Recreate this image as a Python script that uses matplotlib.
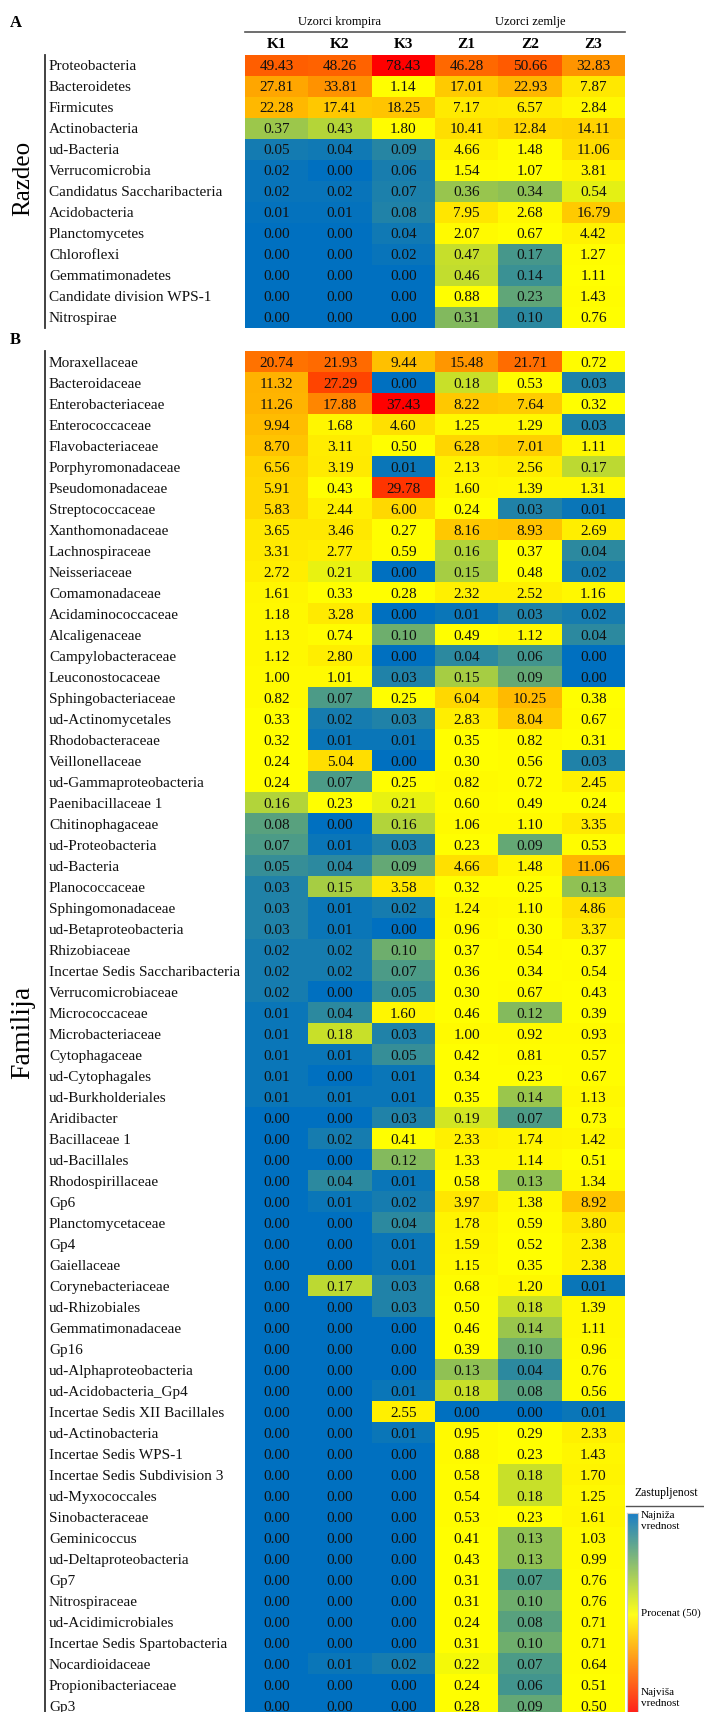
import numpy as np
import matplotlib
matplotlib.use("Agg")
import matplotlib.pyplot as plt
from matplotlib.colors import LinearSegmentedColormap, TwoSlopeNorm

plt.rcParams['font.family'] = ['Liberation Serif', 'DejaVu Serif']

# samples (columns)
samples = ['K1', 'K2', 'K3', 'Z1', 'Z2', 'Z3']
groups = ['Uzorci krompira', 'Uzorci zemlje']

# A - phylum level (%)
phylum_names = ['Proteobacteria', 'Bacteroidetes', 'Firmicutes', 'Actinobacteria',
                'ud-Bacteria', 'Verrucomicrobia', 'Candidatus Saccharibacteria',
                'Acidobacteria', 'Planctomycetes', 'Chloroflexi', 'Gemmatimonadetes',
                'Candidate division WPS-1', 'Nitrospirae']
phylum_pct = [
    [49.43, 48.26, 78.43, 46.28, 50.66, 32.83],
    [27.81, 33.81, 1.14, 17.01, 22.93, 7.87],
    [22.28, 17.41, 18.25, 7.17, 6.57, 2.84],
    [0.37, 0.43, 1.80, 10.41, 12.84, 14.11],
    [0.05, 0.04, 0.09, 4.66, 1.48, 11.06],
    [0.02, 0.00, 0.06, 1.54, 1.07, 3.81],
    [0.02, 0.02, 0.07, 0.36, 0.34, 0.54],
    [0.01, 0.01, 0.08, 7.95, 2.68, 16.79],
    [0.00, 0.00, 0.04, 2.07, 0.67, 4.42],
    [0.00, 0.00, 0.02, 0.47, 0.17, 1.27],
    [0.00, 0.00, 0.00, 0.46, 0.14, 1.11],
    [0.00, 0.00, 0.00, 0.88, 0.23, 1.43],
    [0.00, 0.00, 0.00, 0.31, 0.10, 0.76],
]

# B - family level (%)
family_names = ['Moraxellaceae', 'Bacteroidaceae', 'Enterobacteriaceae', 'Enterococcaceae',
                'Flavobacteriaceae', 'Porphyromonadaceae', 'Pseudomonadaceae',
                'Streptococcaceae', 'Xanthomonadaceae', 'Lachnospiraceae', 'Neisseriaceae',
                'Comamonadaceae', 'Acidaminococcaceae', 'Alcaligenaceae',
                'Campylobacteraceae', 'Leuconostocaceae', 'Sphingobacteriaceae',
                'ud-Actinomycetales', 'Rhodobacteraceae', 'Veillonellaceae',
                'ud-Gammaproteobacteria', 'Paenibacillaceae 1', 'Chitinophagaceae',
                'ud-Proteobacteria', 'ud-Bacteria', 'Planococcaceae', 'Sphingomonadaceae',
                'ud-Betaproteobacteria', 'Rhizobiaceae', 'Incertae Sedis Saccharibacteria',
                'Verrucomicrobiaceae', 'Micrococcaceae', 'Microbacteriaceae',
                'Cytophagaceae', 'ud-Cytophagales', 'ud-Burkholderiales', 'Aridibacter',
                'Bacillaceae 1', 'ud-Bacillales', 'Rhodospirillaceae', 'Gp6',
                'Planctomycetaceae', 'Gp4', 'Gaiellaceae', 'Corynebacteriaceae',
                'ud-Rhizobiales', 'Gemmatimonadaceae', 'Gp16', 'ud-Alphaproteobacteria',
                'ud-Acidobacteria_Gp4', 'Incertae Sedis XII Bacillales',
                'ud-Actinobacteria', 'Incertae Sedis WPS-1', 'Incertae Sedis Subdivision 3',
                'ud-Myxococcales', 'Sinobacteraceae', 'Geminicoccus',
                'ud-Deltaproteobacteria', 'Gp7', 'Nitrospiraceae', 'ud-Acidimicrobiales',
                'Incertae Sedis Spartobacteria', 'Nocardioidaceae', 'Propionibacteriaceae',
                'Gp3']
family_pct = [
    [20.74, 21.93, 9.44, 15.48, 21.71, 0.72],
    [11.32, 27.29, 0.00, 0.18, 0.53, 0.03],
    [11.26, 17.88, 37.43, 8.22, 7.64, 0.32],
    [9.94, 1.68, 4.60, 1.25, 1.29, 0.03],
    [8.70, 3.11, 0.50, 6.28, 7.01, 1.11],
    [6.56, 3.19, 0.01, 2.13, 2.56, 0.17],
    [5.91, 0.43, 29.78, 1.60, 1.39, 1.31],
    [5.83, 2.44, 6.00, 0.24, 0.03, 0.01],
    [3.65, 3.46, 0.27, 8.16, 8.93, 2.69],
    [3.31, 2.77, 0.59, 0.16, 0.37, 0.04],
    [2.72, 0.21, 0.00, 0.15, 0.48, 0.02],
    [1.61, 0.33, 0.28, 2.32, 2.52, 1.16],
    [1.18, 3.28, 0.00, 0.01, 0.03, 0.02],
    [1.13, 0.74, 0.10, 0.49, 1.12, 0.04],
    [1.12, 2.80, 0.00, 0.04, 0.06, 0.00],
    [1.00, 1.01, 0.03, 0.15, 0.09, 0.00],
    [0.82, 0.07, 0.25, 6.04, 10.25, 0.38],
    [0.33, 0.02, 0.03, 2.83, 8.04, 0.67],
    [0.32, 0.01, 0.01, 0.35, 0.82, 0.31],
    [0.24, 5.04, 0.00, 0.30, 0.56, 0.03],
    [0.24, 0.07, 0.25, 0.82, 0.72, 2.45],
    [0.16, 0.23, 0.21, 0.60, 0.49, 0.24],
    [0.08, 0.00, 0.16, 1.06, 1.10, 3.35],
    [0.07, 0.01, 0.03, 0.23, 0.09, 0.53],
    [0.05, 0.04, 0.09, 4.66, 1.48, 11.06],
    [0.03, 0.15, 3.58, 0.32, 0.25, 0.13],
    [0.03, 0.01, 0.02, 1.24, 1.10, 4.86],
    [0.03, 0.01, 0.00, 0.96, 0.30, 3.37],
    [0.02, 0.02, 0.10, 0.37, 0.54, 0.37],
    [0.02, 0.02, 0.07, 0.36, 0.34, 0.54],
    [0.02, 0.00, 0.05, 0.30, 0.67, 0.43],
    [0.01, 0.04, 1.60, 0.46, 0.12, 0.39],
    [0.01, 0.18, 0.03, 1.00, 0.92, 0.93],
    [0.01, 0.01, 0.05, 0.42, 0.81, 0.57],
    [0.01, 0.00, 0.01, 0.34, 0.23, 0.67],
    [0.01, 0.01, 0.01, 0.35, 0.14, 1.13],
    [0.00, 0.00, 0.03, 0.19, 0.07, 0.73],
    [0.00, 0.02, 0.41, 2.33, 1.74, 1.42],
    [0.00, 0.00, 0.12, 1.33, 1.14, 0.51],
    [0.00, 0.04, 0.01, 0.58, 0.13, 1.34],
    [0.00, 0.01, 0.02, 3.97, 1.38, 8.92],
    [0.00, 0.00, 0.04, 1.78, 0.59, 3.80],
    [0.00, 0.00, 0.01, 1.59, 0.52, 2.38],
    [0.00, 0.00, 0.01, 1.15, 0.35, 2.38],
    [0.00, 0.17, 0.03, 0.68, 1.20, 0.01],
    [0.00, 0.00, 0.03, 0.50, 0.18, 1.39],
    [0.00, 0.00, 0.00, 0.46, 0.14, 1.11],
    [0.00, 0.00, 0.00, 0.39, 0.10, 0.96],
    [0.00, 0.00, 0.00, 0.13, 0.04, 0.76],
    [0.00, 0.00, 0.01, 0.18, 0.08, 0.56],
    [0.00, 0.00, 2.55, 0.00, 0.00, 0.01],
    [0.00, 0.00, 0.01, 0.95, 0.29, 2.33],
    [0.00, 0.00, 0.00, 0.88, 0.23, 1.43],
    [0.00, 0.00, 0.00, 0.58, 0.18, 1.70],
    [0.00, 0.00, 0.00, 0.54, 0.18, 1.25],
    [0.00, 0.00, 0.00, 0.53, 0.23, 1.61],
    [0.00, 0.00, 0.00, 0.41, 0.13, 1.03],
    [0.00, 0.00, 0.00, 0.43, 0.13, 0.99],
    [0.00, 0.00, 0.00, 0.31, 0.07, 0.76],
    [0.00, 0.00, 0.00, 0.31, 0.10, 0.76],
    [0.00, 0.00, 0.00, 0.24, 0.08, 0.71],
    [0.00, 0.00, 0.00, 0.31, 0.10, 0.71],
    [0.00, 0.01, 0.02, 0.22, 0.07, 0.64],
    [0.00, 0.00, 0.00, 0.24, 0.06, 0.51],
    [0.00, 0.00, 0.00, 0.28, 0.09, 0.50],
]

W, H = 704, 1712
fig = plt.figure(figsize=(W / 100, H / 100), dpi=100)

def box(x0, y0, x1, y1):
    # axes placed in pixel coords (origin top-left)
    return fig.add_axes([x0 / W, 1 - y1 / H, (x1 - x0) / W, (y1 - y0) / H])

# excel style 3-colour scale: min blue, median yellow, max red
cmap = LinearSegmentedColormap.from_list('excel3', ['#0070C0', '#FFFF00', '#FF0000'])

canvas = fig.add_axes([0, 0, 1, 1])
canvas.set_xlim(0, W)
canvas.set_ylim(H, 0)
canvas.axis('off')

X0, X1 = 245, 625
ROW = 21.0
colw = (X1 - X0) / 6
LABEL_X = 49
LINE_X = 45


def heat(top, labels, vals):
    v = np.array(vals)
    n = len(labels)
    ax = box(X0, top, X1, top + n * ROW)
    norm = TwoSlopeNorm(vmin=v.min(), vcenter=np.median(v), vmax=v.max())
    ax.pcolormesh(v, cmap=cmap, norm=norm)
    ax.set_xlim(0, 6)
    ax.set_ylim(n, 0)
    ax.axis('off')
    for i in range(n):
        for j in range(6):
            ax.text(j + 0.5, i + 0.55, f'{v[i, j]:.2f}', ha='center', va='center',
                    fontsize=11, color='#111')
        ax.text((LABEL_X - X0) / colw, i + 0.55, labels[i], ha='left', va='center',
                fontsize=11, color='#111')
    ax.plot([(LINE_X - X0) / colw] * 2, [0, n], color='#333', lw=1.3, clip_on=False)
    return ax


# header
canvas.text(X0 + colw * 1.5, 22, groups[0], ha='center', va='center', fontsize=9)
canvas.text(X0 + colw * 4.5, 22, groups[1], ha='center', va='center', fontsize=9)
canvas.plot([X0, X1], [32, 32], color='#555', lw=1.2)
for j, s in enumerate(samples):
    canvas.text(X0 + colw * (j + 0.5), 44, s, ha='center', va='center',
                fontsize=11, fontweight='bold')

canvas.text(10, 23, 'A', ha='left', va='center', fontsize=12, fontweight='bold')
canvas.text(10, 340, 'B', ha='left', va='center', fontsize=12, fontweight='bold')

heat(54.5, phylum_names, phylum_pct)
heat(351.5, family_names, family_pct)

canvas.text(23, 178, 'Razdeo', rotation=90, ha='center', va='center', fontsize=18)
canvas.text(23, 1032, 'Familija', rotation=90, ha='center', va='center', fontsize=20)

# legend
canvas.text(666, 1493, 'Zastupljenost', ha='center', va='center', fontsize=8.5)
canvas.plot([626, 704], [1506, 1506], color='#555', lw=1.0)
cax = box(627, 1513, 638, 1716)
cax.imshow(np.linspace(0, 1, 256)[:, None], aspect='auto', cmap=cmap, alpha=0.9)
cax.set_xticks([])
cax.set_yticks([])
for sp in cax.spines.values():
    sp.set_color('#cccccc')
canvas.text(641, 1511, 'Najniža\nvrednost', ha='left', va='top', fontsize=8, linespacing=1.3)
canvas.text(641, 1613, 'Procenat (50)', ha='left', va='center', fontsize=8)
canvas.text(641, 1688, 'Najviša\nvrednost', ha='left', va='top', fontsize=8, linespacing=1.3)

fig.savefig('out.png', dpi=100, facecolor='white')
